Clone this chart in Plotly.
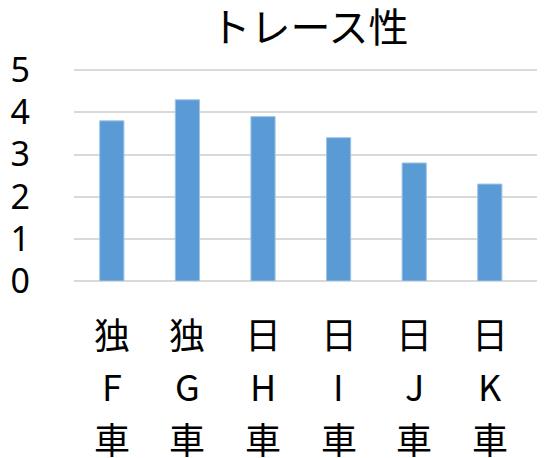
import plotly.graph_objects as go

categories = ["独F車", "独G車", "日H車", "日I車", "日J車", "日K車"]
label_row1 = ["独", "独", "日", "日", "日", "日"]
label_row2 = ["F", "G", "H", "I", "J", "K"]
label_row3 = ["車", "車", "車", "車", "車", "車"]
values = [3.8, 4.3, 3.9, 3.4, 2.8, 2.3]
y_ticks = [0, 1, 2, 3, 4, 5]
title_text = "トレース性"

fig = go.Figure()
fig.add_trace(go.Bar(
    x=categories,
    y=values,
    marker=dict(color="#5b9bd5", line=dict(color="#9dc3e6", width=1)),
    width=0.32,
))

row_shifts = [-52, -104, -157]
for row, shift in zip([label_row1, label_row2, label_row3], row_shifts):
    for cat, txt in zip(categories, row):
        fig.add_annotation(
            x=cat, xref="x", y=0, yref="paper", yshift=shift,
            text=txt, showarrow=False, xanchor="center", yanchor="middle",
            font=dict(family="Noto Sans CJK JP", size=36, color="#000000"),
        )

# page body has an 8px margin; offsets compensate for it
fig.update_layout(
    width=545, height=458,
    margin=dict(l=66, r=8, t=61.4, b=185),
    paper_bgcolor="white", plot_bgcolor="white",
    showlegend=False,
    title=dict(text=title_text, x=0.5, xref="paper", xanchor="center",
               y=0.956, yref="container", yanchor="middle",
               font=dict(family="Noto Sans CJK JP", size=40, color="#000000")),
    font=dict(family="Noto Sans CJK JP", color="#000000"),
)
fig.update_xaxes(
    type="category", range=[-0.5, 5.73], automargin=False,
    showticklabels=False,
    showgrid=False, showline=False, zeroline=False, ticks="",
)
fig.update_yaxes(
    range=[0, 5.03], automargin=False,
    tickmode="array", tickvals=y_ticks, ticktext=[str(v) for v in y_ticks],
    tickfont=dict(family="Noto Sans", size=34, color="#000000"),
    showgrid=True, gridcolor="#d9d9d9", gridwidth=1.5,
    zeroline=True, zerolinecolor="#d9d9d9", zerolinewidth=1.5,
    showline=False, ticks="",
    ticklabelstandoff=43,
)

fig.write_html("out.html")
